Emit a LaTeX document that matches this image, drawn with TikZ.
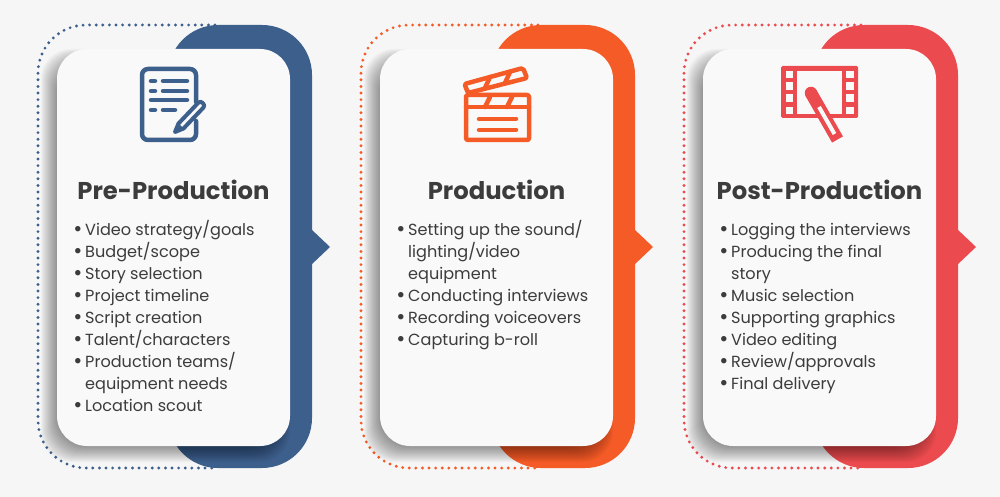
\documentclass[tikz,border=0pt]{standalone}
\usepackage{fontspec}
\setmainfont{Poppins}
\usepackage{tikz}
\definecolor{pagebg}{HTML}{F6F6F6}
\definecolor{cardbg}{HTML}{F9F9F9}
\definecolor{inktext}{HTML}{3C3C3C}
\definecolor{navy}{HTML}{3D5F8C}
\definecolor{flame}{HTML}{F55B26}
\definecolor{coral}{HTML}{EB4B4E}
\newcommand{\bul}{\makebox[11pt][l]{\raisebox{-1.2pt}{\hspace*{-0.8pt}\fontsize{22}{22}\selectfont•}}}
\newcommand{\cont}{\hspace*{11pt}}
\newcommand{\firstline}{\rule{0pt}{16pt}}
\tikzset{
  cardbox/.style={fill=cardbg, rounded corners=30pt, minimum width=233pt, minimum height=397pt, inner sep=0pt},
  headlabel/.style={font=\fontsize{24.3}{26}\selectfont\bfseries, text=inktext, inner sep=0pt, anchor=base},
  itemlist/.style={font=\fontsize{16.1}{22}\selectfont, text=inktext, inner sep=0pt, anchor=north west, align=left},
  iconline/.style={line width=4.5pt, line cap=round, line join=round}
}
\begin{document}
\begin{tikzpicture}[x=1pt, y=-1pt]
\fill[pagebg] (0,0) rectangle (1000,497);
\useasboundingbox (0,0) rectangle (1000,497);
\foreach \dx/\col in {0/navy,323/flame,646/coral}{
\begin{scope}[xshift=\dx pt]
\fill[\col, rounded corners=50pt] (168,25) rectangle (312,468);
\fill[\col] (311,229)--(330,247)--(311,265)--cycle;
\draw[\col, line width=3.2pt, line cap=round, dash pattern=on 0pt off 6.6pt, rounded corners=48pt] (215,25)--(38,25)--(38,468)--(215,468);
\foreach \e in {-8,-7,...,8}{
\fill[black, opacity=0.029, rounded corners=30pt] (49-\e,57-\e) rectangle (282+\e,454+\e);
}
\end{scope}
}
\node[cardbox] (pre) at (173.5,247.5) {};
\node[cardbox] (prod) at (496.5,247.5) {};
\node[cardbox] (post) at (819.5,247.5) {};
% icons
\draw[navy, iconline, rounded corners=6pt] (196,102)--(196,69)--(142,69)--(142,140)--(196,140)--(196,121);
\foreach \yy in {81,91}{
\draw[navy, iconline] (151,\yy)--(155,\yy);
\draw[navy, iconline] (163,\yy)--(187,\yy);
}
\draw[navy, iconline] (151,100)--(187,100);
\draw[navy, iconline] (151,110)--(155,110);
\draw[navy, iconline] (163,110)--(175,110);
\draw[cardbg, line width=9pt] (181,126)--(200,106);
\draw[navy, line width=4pt, line join=round, fill=cardbg] (175,132)--(178.5,123.5)--(198.5,102.5) .. controls (201,100) and (206,105) .. (203.5,107.5)--(183.5,128.5)--cycle;
\fill[navy] (175,132)--(178.5,123.5)--(183.5,128.5)--cycle;
\draw[flame, iconline, rounded corners=2pt] (466,95) rectangle (529,140);
\draw[flame, iconline] (466,107)--(529,107);
\draw[flame, iconline] (490,97)--(485,107);
\draw[flame, iconline] (512,97)--(507,107);
\draw[flame, iconline] (479,119)--(516,119);
\draw[flame, iconline] (479,130)--(516,130);
\draw[flame, iconline, rounded corners=2pt] (464.5,84)--(523,68)--(527,78)--(468,93)--cycle;
\draw[flame, iconline] (490,77)--(485,88);
\draw[flame, iconline] (510,72)--(505,83);
\fill[coral, rounded corners=1.5pt] (781,66) rectangle (858,118);
\fill[cardbg] (797,71) rectangle (842,114);
\foreach \yy/\yb in {71/78,82/90,94/102,107/114}{
\fill[cardbg] (786,\yy) rectangle (793,\yb);
\fill[cardbg] (846,\yy) rectangle (854,\yb);
}
\draw[coral, line width=12.5pt] (811,93)--(837.5,139.5);
\fill[coral] (811,93) circle (6.25pt);
\draw[cardbg, line width=4pt] (819,107)--(834.5,134);
% headings
\node[headlabel] (prehead) at (173.5,199) {Pre-Production};
\node[headlabel] (prodhead) at (496.5,199) {Production};
\node[headlabel] (posthead) at (819.5,199) {Post-Production};
% lists
\node[itemlist] (prelist) at (74,219) {\firstline\bul Video strategy/goals\\ \bul Budget/scope\\ \bul Story selection\\ \bul Project timeline\\ \bul Script creation\\ \bul Talent/characters\\ \bul Production teams/\\ \cont equipment needs\\ \bul Location scout};
\node[itemlist] (prodlist) at (397,219) {\firstline\bul Setting up the sound/\\ \cont lighting/video\\ \cont equipment\\ \bul Conducting interviews\\ \bul Recording voiceovers\\ \bul Capturing b-roll};
\node[itemlist] (postlist) at (720,219) {\firstline\bul Logging the interviews\\ \bul Producing the final\\ \cont story\\ \bul Music selection\\ \bul Supporting graphics\\ \bul Video editing\\ \bul Review/approvals\\ \bul Final delivery};
\end{tikzpicture}
\end{document}
